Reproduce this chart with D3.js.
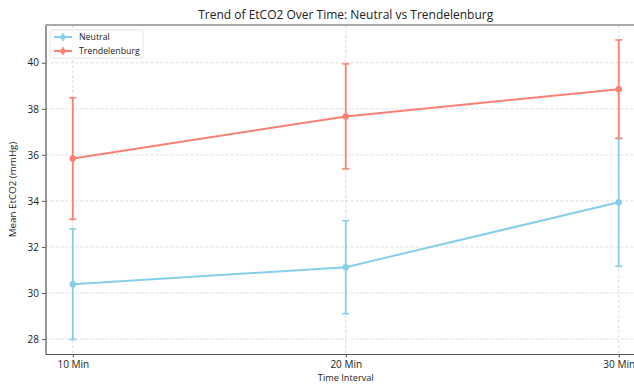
<!DOCTYPE html>
<html>
<head>
<meta charset="utf-8">
<script src="https://cdn.jsdelivr.net/npm/d3@7"></script>
<style>
  body { margin: 0; background: #fff; overflow: hidden; }
  svg { font-family: "Open Sans", "DejaVu Sans", sans-serif; }
</style>
</head>
<body>
<div id="chart"></div>
<script>
const intervals = ["10 Min", "20 Min", "30 Min"];
const neutralMean = [30.38, 31.12, 33.94];
const neutralErr = [2.40, 2.02, 2.78];
const trendMean = [35.84, 37.67, 38.85];
const trendErr = [2.64, 2.28, 2.14];
const yTicks = [28, 30, 32, 34, 36, 38, 40];

const series = [
    {name: "Neutral", mean: neutralMean, err: neutralErr, color: "#87CEEB"},
    {name: "Trendelenburg", mean: trendMean, err: trendErr, color: "#FA8072"}
];

const W = 634, H = 385;
const margin = {top: 25, left: 45.5, bottom: 31};
const plotRight = 646;

const svg = d3.select("#chart").append("svg")
    .attr("width", W)
    .attr("height", H);

const x = d3.scaleLinear()
    .domain([-0.1, intervals.length - 1 + 0.1])
    .range([margin.left, plotRight]);
const y = d3.scaleLinear()
    .domain([27.35, 41.64])
    .range([H - margin.bottom, margin.top]);

// grid
const grid = svg.append("g");
grid.selectAll(".gy").data(yTicks).enter().append("line")
    .attr("x1", margin.left).attr("x2", plotRight)
    .attr("y1", d => y(d)).attr("y2", d => y(d))
    .attr("stroke", "#d4d4d4").attr("stroke-width", 0.8)
    .attr("stroke-dasharray", "3,2");
grid.selectAll(".gx").data(intervals).enter().append("line")
    .attr("x1", (d, i) => x(i)).attr("x2", (d, i) => x(i))
    .attr("y1", margin.top).attr("y2", H - margin.bottom)
    .attr("stroke", "#d4d4d4").attr("stroke-width", 0.8)
    .attr("stroke-dasharray", "3,2");

// axes
const yAxis = svg.append("g")
    .attr("transform", "translate(" + margin.left + ",0)")
    .call(d3.axisLeft(y).tickValues(yTicks).tickSize(3.5).tickSizeOuter(0).tickPadding(3));
const xAxis = svg.append("g")
    .attr("transform", "translate(0," + (H - margin.bottom) + ")")
    .call(d3.axisBottom(x).tickValues(d3.range(intervals.length))
        .tickFormat(i => intervals[i]).tickSize(3.5).tickSizeOuter(0).tickPadding(3));
[xAxis, yAxis].forEach(a => {
    a.select(".domain").attr("stroke", "#555").attr("stroke-width", 1.2);
    a.selectAll(".tick line").attr("stroke", "#555");
    a.selectAll("text").attr("font-size", 10).attr("fill", "#222")
        .attr("font-family", "Open Sans, DejaVu Sans, sans-serif");
});
svg.append("line")
    .attr("x1", margin.left).attr("x2", plotRight)
    .attr("y1", margin.top).attr("y2", margin.top)
    .attr("stroke", "#555").attr("stroke-width", 1.2);

// series
const line = d3.line().x((d, i) => x(i)).y(d => y(d));
series.forEach(s => {
    const g = svg.append("g");
    s.mean.forEach((m, i) => {
        const lo = y(m - s.err[i]), hi = y(m + s.err[i]);
        g.append("line").attr("x1", x(i)).attr("x2", x(i))
            .attr("y1", lo).attr("y2", hi)
            .attr("stroke", s.color).attr("stroke-width", 1.8);
        [lo, hi].forEach(v => {
            g.append("line").attr("x1", x(i) - 3.5).attr("x2", x(i) + 3.5)
                .attr("y1", v).attr("y2", v)
                .attr("stroke", s.color).attr("stroke-width", 1.6);
        });
    });
    g.append("path").datum(s.mean)
        .attr("d", line).attr("fill", "none")
        .attr("stroke", s.color).attr("stroke-width", 2);
    g.selectAll("circle").data(s.mean).enter().append("circle")
        .attr("cx", (d, i) => x(i)).attr("cy", d => y(d))
        .attr("r", 3.2).attr("fill", s.color);
});

// legend
const lg = svg.append("g").attr("transform", "translate(50,30)");
lg.append("rect").attr("width", 93).attr("height", 28).attr("rx", 2)
    .attr("fill", "#fff").attr("fill-opacity", 0.85)
    .attr("stroke", "#ddd").attr("stroke-width", 0.8);
series.forEach((s, i) => {
    const cy = 7 + i * 14;
    lg.append("line").attr("x1", 4).attr("x2", 22).attr("y1", cy).attr("y2", cy)
        .attr("stroke", s.color).attr("stroke-width", 2);
    lg.append("line").attr("x1", 13).attr("x2", 13).attr("y1", cy - 4).attr("y2", cy + 4)
        .attr("stroke", s.color).attr("stroke-width", 1.5);
    lg.append("circle").attr("cx", 13).attr("cy", cy).attr("r", 2.6).attr("fill", s.color);
    lg.append("text").attr("x", 29).attr("y", cy + 3)
        .attr("font-size", 8.8).attr("fill", "#222").text(s.name);
});

// titles
const cx = (margin.left + plotRight) / 2;
svg.append("text").attr("x", cx).attr("y", 19)
    .attr("text-anchor", "middle").attr("font-size", 12).attr("fill", "#222")
    .text("Trend of EtCO2 Over Time: Neutral vs Trendelenburg");
svg.append("text").attr("x", cx).attr("y", 381)
    .attr("text-anchor", "middle").attr("font-size", 9.2).attr("fill", "#222")
    .text("Time Interval");
svg.append("text")
    .attr("transform", "translate(16," + ((margin.top + H - margin.bottom) / 2) + ") rotate(-90)")
    .attr("text-anchor", "middle").attr("font-size", 9.8).attr("fill", "#222")
    .text("Mean EtCO2 (mmHg)");
</script>
</body>
</html>
